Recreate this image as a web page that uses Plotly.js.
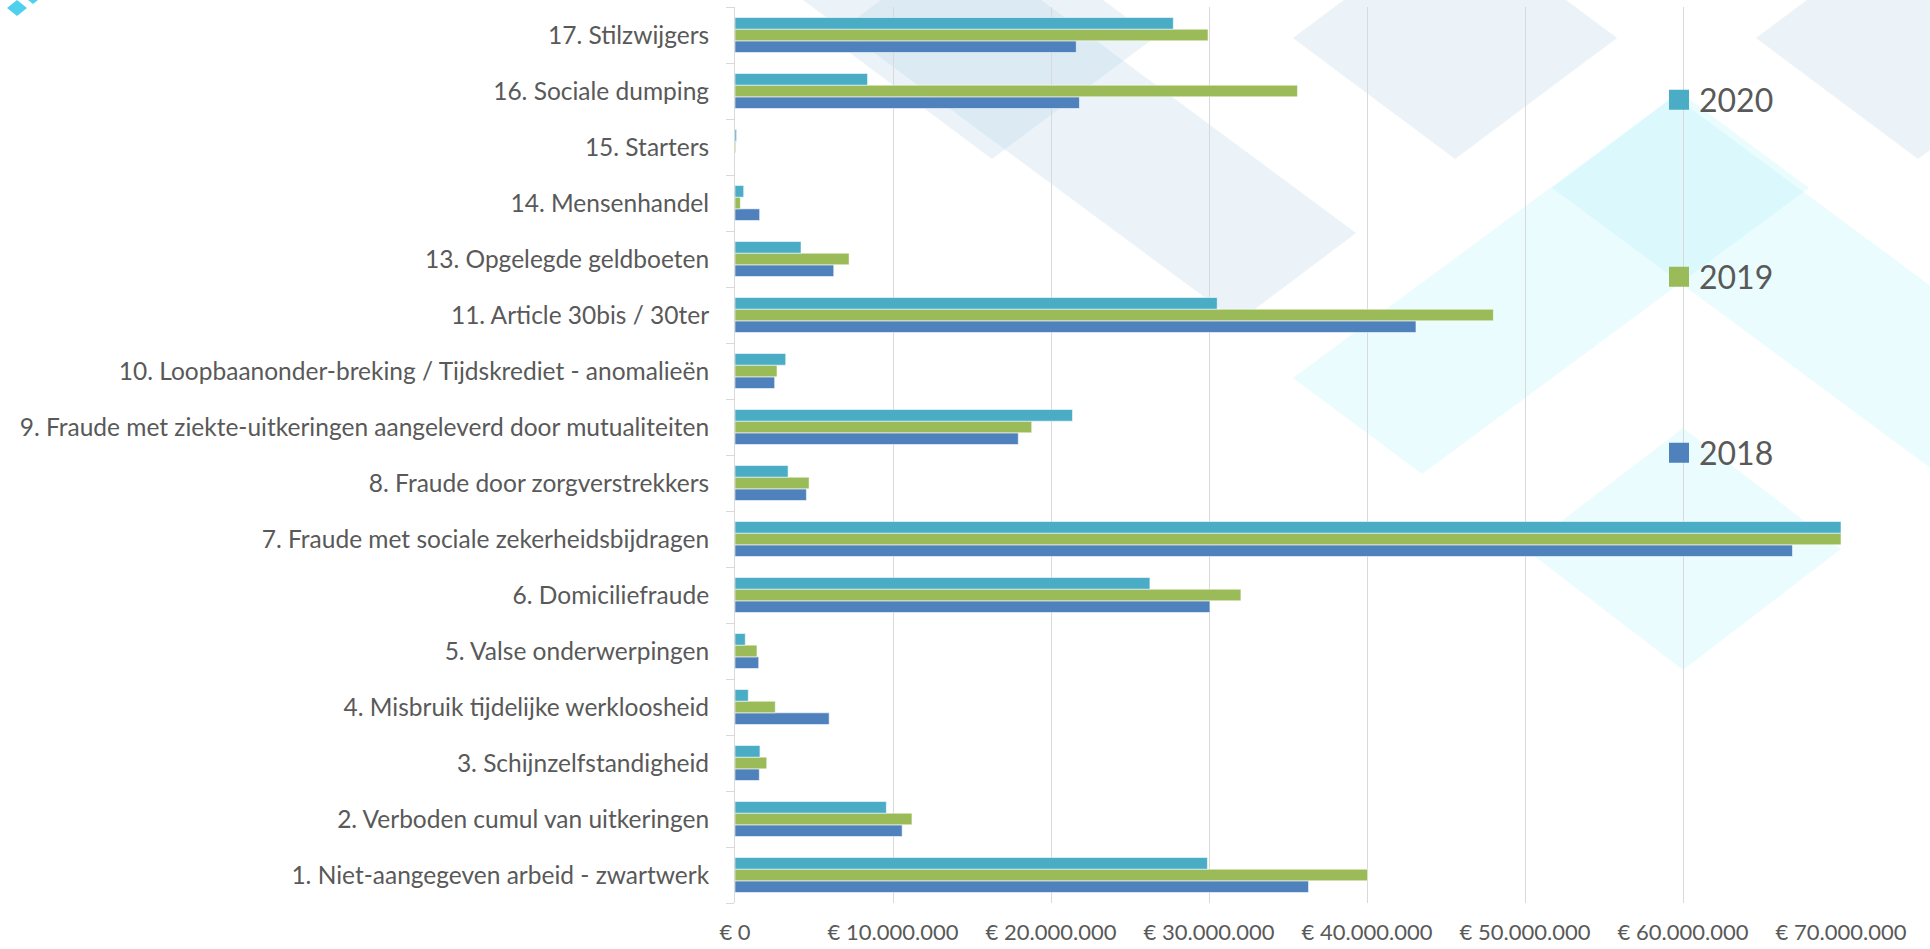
<!DOCTYPE html>
<html>
<head>
<meta charset="utf-8">
<script src="https://cdn.plot.ly/plotly-3.0.1.min.js"></script>
<style>
  html, body { margin: 0; padding: 0; background: #ffffff; }
  #chart { width: 1930px; height: 949px; }
</style>
</head>
<body>
<div id="chart"></div>
<script>
// ---------- DATA ----------
const categories = [
  '1. Niet-aangegeven arbeid - zwartwerk',
  '2. Verboden cumul van uitkeringen',
  '3. Schijnzelfstandigheid',
  '4. Misbruik tijdelijke werkloosheid',
  '5. Valse onderwerpingen',
  '6. Domiciliefraude',
  '7. Fraude met sociale zekerheidsbijdragen',
  '8. Fraude door zorgverstrekkers',
  '9. Fraude met ziekte-uitkeringen aangeleverd door mutualiteiten',
  '10. Loopbaanonder-breking / Tijdskrediet - anomalieën',
  '11. Article 30bis / 30ter',
  '13. Opgelegde geldboeten',
  '14. Mensenhandel',
  '15. Starters',
  '16. Sociale dumping',
  '17. Stilzwijgers'
];

const values2018 = [36300000, 10580000, 1540000, 5960000, 1500000, 30060000, 66930000, 4520000, 17930000, 2510000, 43100000, 6250000, 1560000, 0, 21800000, 21600000];
const values2019 = [40040000, 11200000, 2010000, 2550000, 1390000, 32020000, 70000000, 4690000, 18780000, 2660000, 48000000, 7220000, 340000, 50000, 35600000, 29940000];
const values2020 = [29900000, 9580000, 1580000, 840000, 650000, 26260000, 70000000, 3360000, 21360000, 3210000, 30520000, 4180000, 550000, 100000, 8390000, 27740000];

const seriesNames = ['2018', '2019', '2020'];
const seriesColors = ['#4F81BD', '#9BBB59', '#4BACC6'];

const tickValues = [0, 10000000, 20000000, 30000000, 40000000, 50000000, 60000000, 70000000];
const tickLabels = ['€ 0', '€ 10.000.000', '€ 20.000.000', '€ 30.000.000', '€ 40.000.000', '€ 50.000.000', '€ 60.000.000', '€ 70.000.000'];

// ---------- LAYOUT GEOMETRY ----------
const W = 1930, H = 949;
const M = { l: 735, r: 89, t: 7, b: 46 };
const PW = W - M.l - M.r, PH = H - M.t - M.b;
function px(x, y) { return [(x - M.l) / PW, 1 - (y - M.t) / PH]; }
function poly(points) {
  return points.map((p, i) => { const q = px(p[0], p[1]); return (i ? 'L' : 'M') + q[0].toFixed(5) + ',' + q[1].toFixed(5); }).join(' ') + ' Z';
}
function diamond(cx, cy, hw, hh) { return poly([[cx - hw, cy], [cx, cy - hh], [cx + hw, cy], [cx, cy + hh]]); }

// faint decorative background pattern
const greyFill = 'rgba(175,207,231,0.25)';
const cyanFill = 'rgba(160,240,250,0.21)';
const decor = [
  { path: diamond(992, 38, 162, 121), fill: greyFill },
  { path: diamond(1455, 38, 162, 121), fill: greyFill },
  { path: diamond(1918, 38, 162, 121), fill: greyFill },
  { path: poly([[638, -122], [756, -211], [1356, 233], [1238, 322]]), fill: greyFill },
  { path: poly([[1293, 378], [1680, 92], [1809, 188], [1422, 474]]), fill: cyanFill },
  { path: poly([[1552, 188], [1674, 96], [2174, 466], [2052, 558]]), fill: cyanFill },
  { path: diamond(1683, 549, 158, 121), fill: cyanFill },
  { path: diamond(17, 8, 10, 8), fill: '#4fd0ec' },
  { path: diamond(33, -4, 10, 8), fill: '#4fd0ec' }
];
const shapes = decor.map(d => ({
  type: 'path', xref: 'paper', yref: 'paper', layer: 'below',
  path: d.path, fillcolor: d.fill, line: { width: 0 }
}));

// ---------- TRACES ----------
const seriesValues = [values2018, values2019, values2020];
const traces = seriesValues.map((vals, i) => ({
  type: 'bar', orientation: 'h',
  name: seriesNames[i], y: categories, x: vals,
  marker: { color: seriesColors[i], line: { color: 'rgba(255,255,255,0.55)', width: 1 } },
  showlegend: false, hoverinfo: 'x+y+name'
}));

// legend entries (one legend each, to reproduce the spaced-out legend)
const legendIds = ['legend3', 'legend2', 'legend'];
seriesNames.forEach((n, i) => {
  traces.push({
    type: 'scatter', mode: 'markers', name: n, x: [null], y: [null],
    marker: { symbol: 'square', size: 16, color: seriesColors[i], line: { color: seriesColors[i], width: 4 } },
    showlegend: true, legend: legendIds[i], hoverinfo: 'skip'
  });
});

const legendFont = { family: 'Lato, "Open Sans", sans-serif', size: 32, color: '#595959' };
function legendAt(cy) {
  return { x: px(1659, 0)[0], xanchor: 'left', y: px(0, cy)[1], yanchor: 'middle',
           bgcolor: 'rgba(0,0,0,0)', borderwidth: 0, font: legendFont, itemclick: false };
}

const layout = {
  width: W, height: H,
  margin: { l: M.l, r: M.r, t: M.t, b: M.b, pad: 0 },
  paper_bgcolor: '#ffffff', plot_bgcolor: 'rgba(0,0,0,0)',
  font: { family: 'Lato, "Open Sans", sans-serif', size: 22, color: '#595959' },
  separators: ',.',
  barmode: 'group', bargap: 0.375, bargroupgap: 0,
  xaxis: {
    range: [0, 70000000], tickvals: tickValues, ticktext: tickLabels,
    showgrid: true, gridcolor: '#d9d9d9', gridwidth: 1,
    zeroline: false, showline: false, ticks: '',
    ticklabelstandoff: 14,
    tickfont: { size: 22, color: '#595959' }, fixedrange: true
  },
  yaxis: {
    type: 'category', categoryorder: 'array', categoryarray: categories,
    showgrid: false, zeroline: false,
    showline: true, linecolor: '#d9d9d9', linewidth: 1,
    ticks: 'outside', tickson: 'boundaries', ticklen: 8, tickcolor: '#d9d9d9', tickwidth: 1,
    ticklabelstandoff: 20,
    tickfont: { size: 24.5, color: '#595959' }, fixedrange: true
  },
  legend: legendAt(100),
  legend2: legendAt(277),
  legend3: legendAt(453),
  shapes: shapes
};

Plotly.newPlot('chart', traces, layout, { displayModeBar: false, responsive: false });
</script>
</body>
</html>
